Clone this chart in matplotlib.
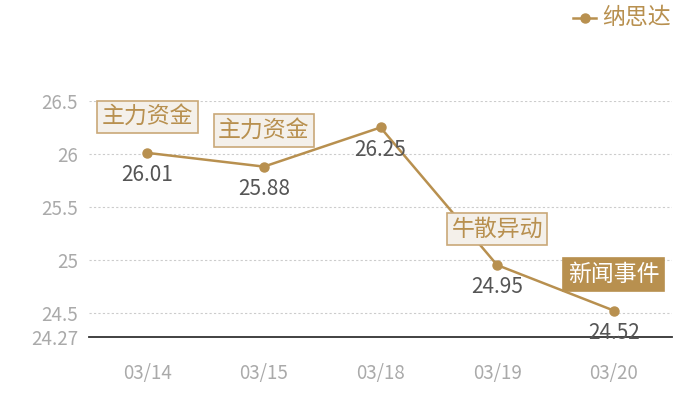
import matplotlib
matplotlib.use("Agg")
import matplotlib.pyplot as plt

plt.rcParams['font.family'] = ['Noto Sans CJK SC', 'DejaVu Sans']
plt.rcParams['font.weight'] = 'light'

dates = ["03/14", "03/15", "03/18", "03/19", "03/20"]
prices = [26.01, 25.88, 26.25, 24.95, 24.52]
events = ["主力资金", "主力资金", None, "牛散异动", "新闻事件"]
highlight = [False, False, False, False, True]
yticks = [24.27, 24.5, 25, 25.5, 26, 26.5]
ytick_labels = ["24.27", "24.5", "25", "25.5", "26", "26.5"]
series_name = "纳思达"

gold = "#B8904F"
fig = plt.figure(figsize=(7, 4), dpi=100)
ax = fig.add_axes([89/700, 1-337/400, (672-89)/700, (337-101)/400])

x = list(range(len(dates)))
ax.plot(x, prices, color=gold, lw=1.8, marker='o', ms=6.5, clip_on=False, zorder=3)

ax.set_xlim(-0.5, len(dates)-0.5)
ax.set_ylim(24.27, 26.5)
ax.set_yticks(yticks)
ax.set_yticklabels(ytick_labels)
ax.set_xticks(x)
ax.set_xticklabels(dates)
ax.tick_params(axis='both', length=0, colors="#AAAAAA", labelsize=13.5)
ax.tick_params(axis='x', pad=19)
ax.tick_params(axis='y', pad=8)
for s in ['top', 'right', 'left']:
    ax.spines[s].set_visible(False)
ax.spines['bottom'].set_color('#333333')
ax.spines['bottom'].set_linewidth(1.3)
for v in yticks[1:]:
    ax.axhline(v, color='#CCCCCC', lw=0.8, ls=(0, (2, 2)), zorder=1)

for xi, p in zip(x, prices):
    ax.annotate(f"{p:.2f}", (xi, p), xytext=(0, -16), textcoords='offset points',
                ha='center', va='center', fontsize=15, color='#555555', zorder=4,
                annotation_clip=False)

for xi, p, ev, hl in zip(x, prices, events, highlight):
    if ev is None:
        continue
    if hl:
        fc, tc, ec = gold, 'white', gold
    else:
        fc, tc, ec = '#F4F0EA', gold, '#C9A878'
    ax.annotate(ev, (xi, p), xytext=(0, 26), textcoords='offset points',
                ha='center', va='center', fontsize=16.5, color=tc, zorder=5,
                annotation_clip=False,
                bbox=dict(boxstyle='square,pad=0.2', fc=fc, ec=ec, lw=1.2))

# legend
fig.lines.append(plt.Line2D([573/700, 596/700], [1-18/400, 1-18/400], color=gold, lw=1.8,
                            transform=fig.transFigure))
fig.lines.append(plt.Line2D([584.5/700], [1-18/400], color=gold, marker='o', ms=6.5,
                            transform=fig.transFigure))
fig.text(602/700, 1-18/400, series_name, ha='left', va='center', fontsize=16.5, color=gold)

fig.savefig("out.png", dpi=100)
